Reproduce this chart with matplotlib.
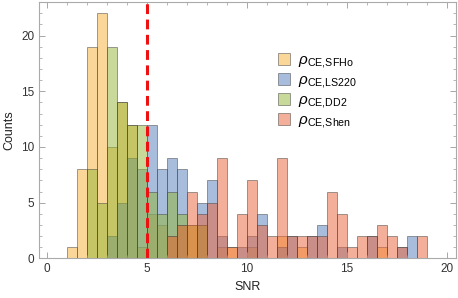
import matplotlib.pyplot as plt
from matplotlib.patches import Patch
from matplotlib.ticker import MultipleLocator

# histogram counts per SNR bin (bin width 0.5, from 0 to 20)
bin_width = 0.5
bin_left = [i * bin_width for i in range(40)]

sfho = [0, 0, 1, 8, 19, 22, 10, 14, 12, 1, 4, 3, 2, 3, 3, 3, 0, 1, 1, 0,
        1, 0, 0, 2, 0, 1, 0, 0, 0, 0, 0, 0, 0, 1, 0, 0, 0, 0, 0, 0]
ls220 = [0, 0, 0, 0, 0, 0, 2, 5, 9, 8, 12, 8, 9, 8, 0, 5, 7, 2, 0, 1,
         2, 4, 0, 1, 2, 0, 2, 3, 0, 1, 0, 0, 2, 0, 0, 1, 2, 0, 0, 0]
dd2 = [0, 0, 0, 0, 8, 5, 19, 14, 12, 12, 6, 4, 6, 4, 3, 3, 0, 0, 0, 0,
       0, 0, 0, 0, 0, 0, 0, 0, 0, 0, 0, 0, 0, 0, 0, 0, 0, 0, 0, 0]
shen = [0, 0, 0, 0, 0, 0, 0, 0, 0, 0, 0, 0, 2, 3, 6, 4, 5, 9, 1, 4,
        7, 3, 2, 9, 2, 2, 2, 2, 6, 4, 1, 2, 2, 3, 2, 1, 0, 2, 0, 0]

labels = [r"$\rho_{\mathrm{CE{,}SFHo}}$", r"$\rho_{\mathrm{CE{,}LS220}}$",
          r"$\rho_{\mathrm{CE{,}DD2}}$", r"$\rho_{\mathrm{CE{,}Shen}}$"]
colors = ["#f9af35", "#537bb9", "#93b535", "#eb6137"]
snr_threshold = 5

plt.rcParams["font.family"] = ["Liberation Sans", "DejaVu Sans"]
plt.rcParams["mathtext.fontset"] = "custom"
plt.rcParams["mathtext.rm"] = "Liberation Sans"
plt.rcParams["mathtext.it"] = "Liberation Sans:italic"

fig = plt.figure(figsize=(4.58, 2.98), dpi=100)
ax = fig.add_axes([0.085, 0.133, 0.911, 0.86])

for series, color in zip([sfho, ls220, dd2, shen], colors):
    ax.bar(bin_left, series, width=bin_width, align="edge", color=color,
           alpha=0.5, edgecolor=(0.25, 0.25, 0.25, 0.55), linewidth=0.7)

ax.axvline(snr_threshold, color="#ee1111", linewidth=2.2,
           linestyle=(0, (3.2, 1.8)))

ax.set_xlim(-0.4, 20.45)
ax.set_ylim(0, 23)
ax.xaxis.set_major_locator(MultipleLocator(5))
ax.xaxis.set_minor_locator(MultipleLocator(1))
ax.yaxis.set_major_locator(MultipleLocator(5))
ax.yaxis.set_minor_locator(MultipleLocator(1))
ax.tick_params(which="both", direction="in", top=True, right=True,
               color="#999999", labelsize=8.5, labelcolor="#333333")
ax.tick_params(which="major", length=4.5, width=0.6)
ax.tick_params(which="minor", length=2.5, width=0.5)
for spine in ax.spines.values():
    spine.set_color("#aaaaaa")
    spine.set_linewidth(0.8)

ax.set_xlabel("SNR", fontsize=9, color="#222222", labelpad=4.5)
ax.set_ylabel("Counts", fontsize=9, color="#222222", labelpad=4)

handles = [Patch(facecolor=c, alpha=0.5, edgecolor=(0.25, 0.25, 0.25, 0.55),
                 linewidth=0.7) for c in colors]
ax.legend(handles, labels, loc="upper left", bbox_to_anchor=(0.54, 0.855),
          frameon=False, fontsize=11, handlelength=0.8, handleheight=0.8,
          labelspacing=0.2, handletextpad=0.5)

fig.savefig("out.png", dpi=100)
